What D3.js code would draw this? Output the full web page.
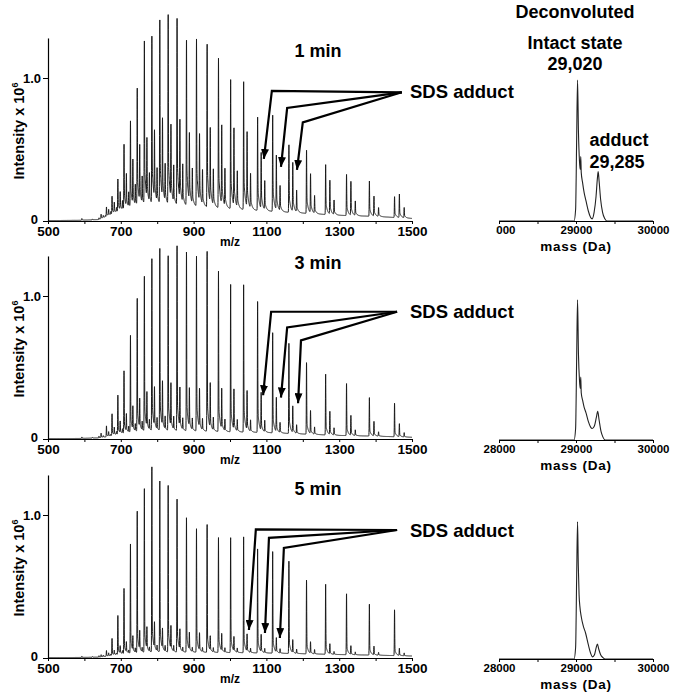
<!DOCTYPE html>
<html><head><meta charset="utf-8">
<script src="https://cdn.jsdelivr.net/npm/d3@7"></script>
<style>body{margin:0;background:#fff}svg{display:block;font-family:Arial,"Liberation Sans",sans-serif}</style>
</head><body><svg id="c" width="674" height="698"></svg>
<script>
// ---------- DATA ----------
const panelTitles = ["1 min", "3 min", "5 min"];
const charges = [20,21,22,23,24,25,26,27,28,29,30,31,32,33,34,35,36,37,38,39,40,41,42,43,44,45];
const mainMz   = [1452.0,1382.9,1320.1,1262.7,1210.2,1161.8,1117.2,1075.8,1037.4,1001.7,968.3,937.1,907.9,880.4,854.5,830.1,807.1,785.3,764.7,745.1,726.5,708.8,691.9,675.9,660.6,645.9];
const adductMz = [1465.3,1395.5,1332.1,1274.3,1221.2,1172.4,1127.3,1085.6,1046.9,1010.8,977.2,945.7,916.2,888.4,862.3,837.7,814.5,792.5,771.7,751.9,733.1,715.3,698.3,682.1,666.6,651.8];
const adduct2Mz = [1478.5,1408.1,1344.2,1285.8,1232.3,1183.0,1137.5,1095.4,1056.4,1020.0,986.0,954.2,924.4,896.5,870.1,845.3,821.8,799.6,778.6,758.7,739.8,721.7,704.6,688.2,672.6,657.7];

const main1 = [0.145,0.24,0.28,0.34,0.44,0.47,0.67,0.65,0.89,0.88,1.02,1.11,1.14,1.15,1.27,1.29,1.25,1.14,1.11,0.795,0.585,0.45,0.22,0.12,0.065,0.03];
const add1  = [0.16,0.135,0.23,0.23,0.27,0.34,0.37,0.39,0.51,0.54,0.55,0.51,0.47,0.47,0.54,0.50,0.54,0.46,0.41,0.38,0.30,0.22,0.12,0.07,0.04,0.015];
const addB1 = [0.07,0.06,0.10,0.10,0.12,0.15,0.17,0.20,0.24,0.25,0.26,0.25,0.24,0.24,0.26,0.25,0.26,0.23,0.20,0.18,0.14,0.10,0.06,0.03,0.02,0.01];

const main2 = [0.234,0.266,0.36,0.42,0.50,0.63,0.70,0.915,1.03,1.02,1.11,1.245,1.21,1.25,1.28,1.21,1.26,1.19,1.07,0.92,0.67,0.435,0.27,0.15,0.076,0.03];
const add2  = [0.09,0.10,0.137,0.16,0.16,0.185,0.236,0.265,0.27,0.28,0.28,0.31,0.27,0.27,0.27,0.30,0.31,0.27,0.24,0.20,0.16,0.12,0.08,0.05,0.03,0.01];
const addB2 = [0.03,0.03,0.04,0.05,0.05,0.06,0.07,0.08,0.08,0.08,0.08,0.09,0.08,0.08,0.08,0.09,0.09,0.08,0.07,0.06,0.05,0.04,0.03,0.02,0.01,0.0];

const main3 = [0.32,0.354,0.424,0.487,0.515,0.645,0.71,0.727,0.81,0.80,0.80,0.89,0.86,0.94,1.065,1.16,1.19,1.29,1.14,0.985,0.76,0.455,0.27,0.117,0.04,0.015];
const add3  = [0.05,0.06,0.06,0.07,0.08,0.09,0.10,0.12,0.12,0.10,0.12,0.10,0.12,0.12,0.14,0.16,0.14,0.18,0.15,0.13,0.10,0.07,0.05,0.03,0.02,0.01];
const addB3 = [0.02,0.02,0.02,0.02,0.03,0.03,0.03,0.03,0.03,0.03,0.03,0.03,0.03,0.03,0.03,0.04,0.04,0.04,0.03,0.03,0.03,0.02,0.02,0.01,0.01,0.0];

const minorMz  = [593, 622, 640];
const minor1   = [0.012, 0.006, 0.012];
const minor2   = [0.010, 0.005, 0.012];
const minor3   = [0.008, 0.005, 0.010];

const baseMz = [500, 590, 640, 660, 700, 750, 800, 900, 1000, 1100, 1200, 1300, 1400, 1500];
const base1  = [0.003,0.005,0.01,0.03,0.07,0.10,0.11,0.10,0.085,0.07,0.055,0.04,0.032,0.018];
const base2  = [0.003,0.004,0.008,0.015,0.035,0.05,0.055,0.055,0.05,0.045,0.035,0.025,0.02,0.012];
const base3  = [0.003,0.004,0.006,0.012,0.028,0.035,0.04,0.04,0.038,0.035,0.03,0.024,0.02,0.014];
const tailFrac = [0.3, 0.2, 0.16];

const xTicks = [500,600,700,800,900,1000,1100,1200,1300,1400,1500];
const xTickLabels = ["500","","700","","900","","1100","","1300","","1500"];
const yTicks = [0, 1.0];
const yTickLabels = ["0", "1.0"];

// SDS adduct arrows (m/z, intensity): start, elbows, tips
const arrowStart = [[1472,0.90],[1459,0.89],[1459,0.895]];
const arrowElbows = [
  [[1115,0.91],[1157,0.79],[1200,0.69]],
  [[1113,0.89],[1157,0.78],[1195,0.69]],
  [[1071,0.90],[1107,0.84],[1148,0.77]]
];
const arrowTips = [
  [[1093,0.434],[1140,0.378],[1184,0.357]],
  [[1091,0.306],[1140,0.29],[1187,0.25]],
  [[1052,0.196],[1096,0.175],[1137,0.14]]
];

// Deconvoluted spectra
const dMass1 = [28000,28975,28995,29008,29020,29032,29045,29055,29062,29068,29085,29105,29130,29160,29190,29210,29235,29260,29278,29288,29300,29320,29345,29375,29400,30000];
const dInt1  = [0,0,0.08,0.55,0.985,0.62,0.42,0.36,0.45,0.34,0.27,0.20,0.14,0.07,0.025,0.015,0.06,0.17,0.30,0.345,0.28,0.15,0.06,0.015,0,0];
const dMass2 = [28000,28975,28995,29008,29020,29032,29045,29055,29062,29068,29085,29105,29130,29160,29190,29210,29240,29265,29282,29300,29325,29350,29380,30000];
const dInt2  = [0,0,0.08,0.55,0.98,0.60,0.42,0.36,0.44,0.33,0.28,0.23,0.19,0.13,0.09,0.08,0.10,0.16,0.20,0.14,0.06,0.02,0,0];
const dMass3 = [28000,28975,28995,29008,29020,29030,29040,29050,29070,29095,29125,29160,29190,29215,29240,29262,29278,29295,29320,29350,29380,30000];
const dInt3  = [0,0,0.08,0.55,0.96,0.65,0.45,0.37,0.29,0.23,0.18,0.10,0.04,0.015,0.03,0.08,0.105,0.07,0.03,0.01,0,0];
const dTicks = [28000,28500,29000,29500,30000];
const dTickLabels = ["28000","","29000","","30000"];

// ---------- DRAW ----------
const svg = d3.select("#c");
const FONT = "Arial, 'Liberation Sans', sans-serif";
const defs = svg.append("defs");
defs.append("marker").attr("id","ah").attr("viewBox","0 0 10 8")
  .attr("refX",10).attr("refY",4).attr("markerWidth",10).attr("markerHeight",8)
  .attr("markerUnits","userSpaceOnUse").attr("orient","auto")
  .append("path").attr("d","M0,0 L10,4 L0,8 Z").attr("fill","#000");

const baseY = [221, 439, 658];
const dBaseY = [221, 440, 659];
const UNIT = 143;
const YMAX = 1.28;

const mains = [main1, main2, main3];
const adds = [add1, add2, add3];
const addBs = [addB1, addB2, addB3];
const minors = [minor1, minor2, minor3];
const bases = [base1, base2, base3];
const dM = [dMass1, dMass2, dMass3];
const dI = [dInt1, dInt2, dInt3];

function styleAxis(g, size) {
  g.selectAll("path.domain").attr("stroke","#000").attr("stroke-width",1.2);
  g.selectAll(".tick line").attr("stroke","#000").attr("stroke-width",1);
  g.selectAll("text").attr("font-family",FONT).attr("font-weight","bold")
    .attr("font-size",size).attr("fill","#000");
}

for (let i = 0; i < 3; i++) {
  const y0 = baseY[i];
  const x = d3.scaleLinear().domain([500,1500]).range([48,412]);
  const y = d3.scaleLinear().domain([0,YMAX]).range([y0, y0 - YMAX*UNIT]);

  // build trace from the peak lists
  const peaks = [];
  charges.forEach((z,k) => {
    peaks.push([mainMz[k], mains[i][k]]);
    peaks.push([adductMz[k], adds[i][k]]);
    peaks.push([adduct2Mz[k], addBs[i][k]]);
  });
  minorMz.forEach((m,k) => peaks.push([m, minors[i][k]]));
  const baseScale = d3.scaleLinear().domain(baseMz).range(bases[i]);
  const tf = tailFrac[i];
  const pts = [];
  for (let m = 500; m <= 1500.001; m += 0.2) {
    let v = baseScale(m);
    for (const [pm, h] of peaks) {
      const d = m - pm;
      if (d < -3 || d > 40) continue;
      v += h * Math.exp(-0.5 * (d/0.5) * (d/0.5));
      if (d > 0) v += h * tf * Math.exp(-d/4) * (1 - Math.exp(-d/0.6));
    }
    pts.push([m, v]);
  }
  svg.append("path").datum(pts)
    .attr("d", d3.line().x(d => x(d[0])).y(d => y(d[1])))
    .attr("fill","none").attr("stroke","#1a1a1a").attr("stroke-width",1);

  // axes
  const gx = svg.append("g").attr("transform",`translate(0,${y0})`)
    .call(d3.axisBottom(x).tickValues(xTicks).tickSize(3).tickSizeOuter(0)
      .tickFormat((d,k) => xTickLabels[k]));
  styleAxis(gx, 13.5);
  gx.selectAll("text").attr("dy","0.68em");
  const gy = svg.append("g").attr("transform","translate(48,0)")
    .call(d3.axisLeft(y).tickValues(yTicks).tickSize(5).tickSizeOuter(0)
      .tickFormat((d,k) => yTickLabels[k]));
  styleAxis(gy, 13);
  gy.selectAll("text").attr("x",-7);
  gy.selectAll(".tick").filter(d => d === 0).select("text").attr("x",-10).attr("dy","0.18em");

  svg.append("text").attr("x",230).attr("y",y0+25).attr("text-anchor","middle")
    .attr("font-family",FONT).attr("font-weight","bold").attr("font-size",12).text("m/z");

  const yl = svg.append("text").attr("transform",`translate(24,${y0-90}) rotate(-90)`)
    .attr("text-anchor","middle").attr("font-family",FONT).attr("font-weight","bold").attr("font-size",14.5);
  yl.append("tspan").text("Intensity x 10");
  yl.append("tspan").attr("font-size",9).attr("dy",-6).text("6");

  // title
  svg.append("text").attr("x",318).attr("y",[57,269,495][i]).attr("text-anchor","middle")
    .attr("font-family",FONT).attr("font-weight","bold").attr("font-size",18).text(panelTitles[i]);

  // SDS adduct label + arrows
  svg.append("text").attr("x",410).attr("y",[98,318,537][i])
    .attr("font-family",FONT).attr("font-weight","bold").attr("font-size",18.5).text("SDS adduct");
  arrowElbows[i].forEach((e,k) => {
    const p = [arrowStart[i], e, arrowTips[i][k]];
    svg.append("path").attr("d", d3.line().x(d => x(d[0])).y(d => y(d[1]))(p))
      .attr("fill","none").attr("stroke","#000").attr("stroke-width",2.2)
      .attr("stroke-linejoin","miter").attr("marker-end","url(#ah)");
  });

  // deconvoluted panel
  const dy0 = dBaseY[i];
  const xd = d3.scaleLinear().domain([28000,30000]).range([499,653]);
  const yd = d3.scaleLinear().domain([0,YMAX]).range([dy0, dy0 - YMAX*UNIT]);
  const dpts = dM[i].map((m,k) => [m, dI[i][k]]);
  svg.append("path").datum(dpts)
    .attr("d", d3.line().x(d => xd(d[0])).y(d => yd(d[1])).curve(d3.curveMonotoneX))
    .attr("fill","none").attr("stroke","#222").attr("stroke-width",1.1);
  const gd = svg.append("g").attr("transform",`translate(0,${dy0})`)
    .call(d3.axisBottom(xd).tickValues(dTicks).tickSize(3).tickSizeOuter(0)
      .tickFormat((d,k) => dTickLabels[k]));
  styleAxis(gd, 11.5);
  gd.selectAll("text").attr("dy","0.6em");
  svg.append("text").attr("x",576).attr("y",dy0+30).attr("text-anchor","middle")
    .attr("font-family",FONT).attr("font-weight","bold").attr("font-size",13.5)
    .attr("letter-spacing","0.8px").text("mass (Da)");
}

// mask hiding part of the top "28000" label as in the original
svg.append("rect").attr("x",440).attr("y",224).attr("width",56).attr("height",14).attr("fill","#fff");

// deconvoluted annotations
const ann = [["Deconvoluted",575,18],["Intact state",575,49],["29,020",575,70],["adduct",619,146],["29,285",617,168]];
ann.forEach(a => svg.append("text").attr("x",a[1]).attr("y",a[2]).attr("text-anchor","middle")
  .attr("font-family",FONT).attr("font-weight","bold").attr("font-size",18).text(a[0]));
</script></body></html>
